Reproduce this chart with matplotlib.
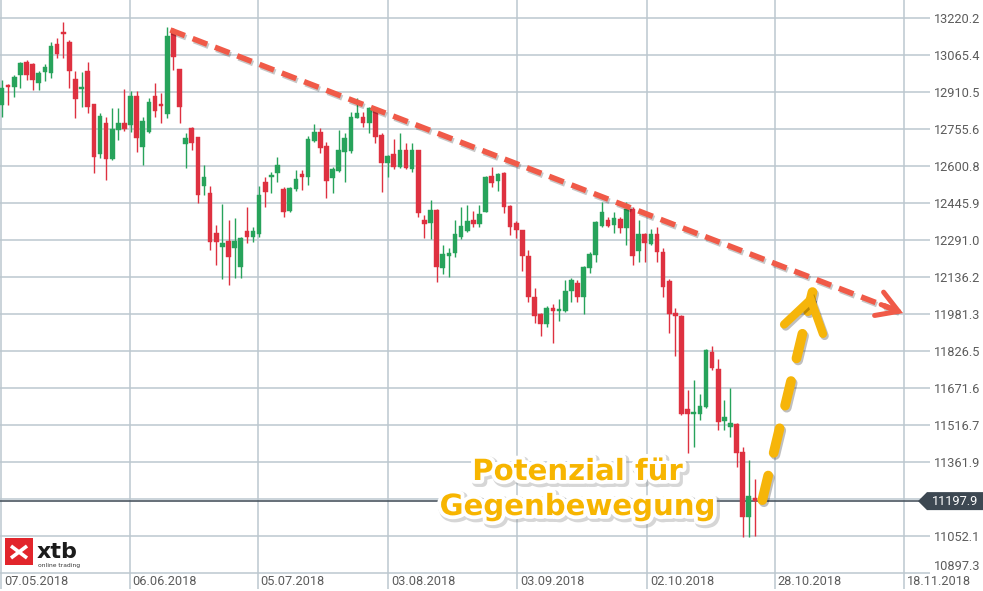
import matplotlib
matplotlib.use('Agg')
import matplotlib.pyplot as plt
import matplotlib.patheffects as pe
from matplotlib.patches import Rectangle, Polygon
from matplotlib.lines import Line2D
from matplotlib.transforms import ScaledTranslation, blended_transform_factory
import numpy as np

# ---------------- data ----------------
opens = [12856, 12940, 12931, 12982, 13036, 13028, 12948, 12994, 12990, 13111,
         13162, 13120, 12965, 12923, 12998, 12860, 12651, 12781, 12630, 12751,
         12781, 12772, 12894, 12680, 12743, 12894, 12860, 12818, 13162, 13007,
         12693, 12760, 12722, 12517, 12488, 12320, 12262, 12287, 12257, 12178,
         12329, 12303, 12316, 12534, 12555, 12571, 12504, 12412, 12504, 12567,
         12555, 12705, 12743, 12684, 12550, 12580, 12659, 12663, 12802, 12806,
         12781, 12839, 12730, 12613, 12651, 12596, 12668, 12588, 12668, 12375,
         12362, 12416, 12174, 12224, 12236, 12303, 12329, 12375, 12358, 12408,
         12559, 12538, 12571, 12433, 12362, 12333, 12224, 12052, 11981, 11939,
         12006, 11994, 11994, 12077, 12111, 12052, 12174, 12228, 12350, 12375,
         12354, 12379, 12341, 12421, 12245, 12316, 12274, 12316, 12241, 12119,
         11985, 11973, 11583, 11563, 11563, 11592, 11822, 11751, 11533, 11508,
         11521, 11403, 11131, 11211]
highs = [12961, 12944, 12982, 13036, 13044, 13032, 12998, 13028, 13120, 13136,
         13203, 13128, 12998, 12994, 13036, 12860, 12823, 12806, 12843, 12843,
         12923, 12915, 12915, 12806, 12885, 12948, 12906, 13182, 13178, 13007,
         12739, 12764, 12722, 12605, 12517, 12354, 12442, 12375, 12383, 12303,
         12429, 12345, 12517, 12555, 12576, 12638, 12513, 12513, 12584, 12584,
         12726, 12776, 12760, 12701, 12596, 12751, 12739, 12827, 12885, 12827,
         12848, 12843, 12739, 12647, 12714, 12739, 12697, 12697, 12668, 12396,
         12458, 12421, 12270, 12257, 12375, 12429, 12437, 12412, 12437, 12559,
         12596, 12571, 12576, 12437, 12370, 12333, 12249, 12090, 11985, 12015,
         12023, 12044, 12123, 12132, 12123, 12182, 12241, 12370, 12450, 12387,
         12408, 12387, 12450, 12429, 12375, 12320, 12337, 12345, 12257, 12128,
         12006, 11977, 11663, 11705, 11646, 11835, 11847, 11793, 11621, 11671,
         11525, 11424, 11370, 11290]
lows = [12806, 12856, 12889, 12927, 12961, 12919, 12919, 12956, 12969, 13053,
        13053, 12927, 12802, 12848, 12823, 12571, 12634, 12542, 12626, 12710,
        12747, 12743, 12659, 12605, 12739, 12806, 12781, 12802, 13003, 12781,
        12592, 12668, 12446, 12479, 12249, 12186, 12128, 12103, 12132, 12132,
        12278, 12283, 12303, 12429, 12488, 12534, 12387, 12408, 12496, 12500,
        12521, 12701, 12655, 12467, 12488, 12576, 12534, 12655, 12802, 12764,
        12739, 12697, 12492, 12555, 12588, 12592, 12588, 12576, 12387, 12299,
        12295, 12115, 12149, 12136, 12220, 12295, 12324, 12345, 12345, 12408,
        12513, 12496, 12404, 12312, 12299, 12161, 12031, 11943, 11889, 11927,
        11860, 11952, 11990, 12031, 12031, 11981, 12153, 12199, 12345, 12345,
        12320, 12320, 12270, 12186, 12199, 12199, 12270, 12199, 12052, 11902,
        11805, 11558, 11399, 11424, 11537, 11588, 11747, 11496, 11496, 11466,
        11341, 11048, 11048, 11052]
closes = [12927, 12931, 12973, 13032, 12982, 12961, 12990, 13015, 13103, 13069,
          13153, 12998, 12881, 12931, 12848, 12638, 12810, 12630, 12756, 12781,
          12756, 12894, 12718, 12789, 12869, 12831, 12852, 13145, 13057, 12848,
          12718, 12697, 12479, 12555, 12283, 12283, 12278, 12220, 12287, 12299,
          12303, 12329, 12479, 12492, 12563, 12605, 12408, 12509, 12546, 12555,
          12714, 12743, 12676, 12538, 12588, 12668, 12718, 12806, 12823, 12781,
          12843, 12722, 12613, 12643, 12596, 12668, 12592, 12668, 12404, 12358,
          12416, 12178, 12232, 12236, 12316, 12350, 12370, 12358, 12400, 12555,
          12530, 12567, 12429, 12345, 12333, 12224, 12052, 11973, 11939, 12006,
          11994, 12002, 12077, 12123, 12052, 12178, 12232, 12366, 12408, 12350,
          12383, 12341, 12421, 12224, 12316, 12278, 12316, 12241, 12094, 11981,
          11973, 11563, 11563, 11567, 11596, 11830, 11755, 11529, 11550, 11525,
          11399, 11131, 11219, 11197.9]

x_labels = ['07.05.2018', '06.06.2018', '05.07.2018', '03.08.2018',
            '03.09.2018', '02.10.2018', '28.10.2018', '18.11.2018']
x_tick_pos = [-0.16, 20.9, 41.8, 63.1, 84.2, 105.4, 126.3, 147.4]
y_ticks = [13220.2, 13065.4, 12910.5, 12755.6, 12600.8, 12445.9, 12291.0,
           12136.2, 11981.3, 11826.5, 11671.6, 11516.7, 11361.9, 11052.1, 10897.3]
last_price = 11197.9

trend_x = [27.5, 147.2]
trend_y = [13170, 11985]
rebound_x = [124.2, 132.4]
rebound_y = [11202, 12073]

annot_line1 = 'Potenzial für'
annot_line2 = 'Gegenbewegung'

# ---------------- figure ----------------
W, H = 983, 591
fig = plt.figure(figsize=(W / 100, H / 100), dpi=100)
fig.patch.set_facecolor('white')
ax = fig.add_axes([0, 17 / H, 930 / W, 574 / H])
ax.set_facecolor('white')

GREEN = '#27a35b'
RED = '#de3140'
GRID = '#bcc7cf'
LABEL = '#5c5c5c'

n = len(opens)
idx = np.arange(n)
o = np.array(opens, float)
c = np.array(closes, float)
hi = np.array(highs, float)
lo = np.array(lows, float)
up = c >= o
cols = np.where(up, GREEN, RED)

ax.vlines(idx, lo, hi, colors=cols, linewidth=1.0, zorder=3)
bottoms = np.minimum(o, c)
heights = np.maximum(np.abs(c - o), 6)
ax.bar(idx, heights, bottom=bottoms, width=0.76, color=cols, edgecolor=cols,
       linewidth=0.3, zorder=4)

ax.set_xlim(-0.33, 151.6)
ax.set_ylim(10892.8, 13295.5)

# grid
ax.set_axisbelow(True)
for yv in y_ticks + [11207.0]:
    ax.axhline(yv, color=GRID, linewidth=1.1, zorder=1)
for xv in x_tick_pos:
    ax.axvline(xv, color=GRID, linewidth=1.1, zorder=1)

for s in ax.spines.values():
    s.set_visible(False)

# y ticks on right
ax.yaxis.tick_right()
ax.set_yticks(y_ticks)
ax.set_yticklabels([f'{v:.1f}' for v in y_ticks])
ax.tick_params(axis='y', length=0, pad=2.5, labelsize=9.2, labelcolor=LABEL)
for lab in ax.get_yticklabels():
    lab.set_fontfamily(['Roboto', 'DejaVu Sans'])
ax.get_yticklabels()[-1].set_verticalalignment('bottom')

# x ticks
ax.set_xticks(x_tick_pos)
ax.set_xticklabels(x_labels)
ax.tick_params(axis='x', length=11, width=1.1, color=GRID, direction='out',
               pad=-10, labelsize=9.2, labelcolor=LABEL)
off = ScaledTranslation(2 / 72, 0, fig.dpi_scale_trans)
for lab in ax.get_xticklabels():
    lab.set_horizontalalignment('left')
    lab.set_fontfamily(['Roboto', 'DejaVu Sans'])
    lab.set_transform(lab.get_transform() + off)

# current price line and marker
ax.axhline(last_price, color='#4b5661', linewidth=1.2, zorder=2)
bt = blended_transform_factory(ax.transAxes, ax.transData)
hh = 9 * (13295.5 - 10892.8) / 574
marker = Polygon([(918 / 930, last_price), (927 / 930, last_price + hh),
                  (1.08, last_price + hh), (1.08, last_price - hh),
                  (927 / 930, last_price - hh)], closed=True,
                 transform=bt, facecolor='#3d4852', edgecolor='none',
                 clip_on=False, zorder=6)
ax.add_patch(marker)
ax.text(932 / 930, last_price, f'{last_price:.1f}', transform=bt, color='white',
        fontsize=9.2, family=['Roboto', 'DejaVu Sans'], va='center', ha='left',
        zorder=7, clip_on=False)

# red dashed trend line with arrow head
shadow = [pe.SimpleLineShadow(offset=(1, -1.5), shadow_color='black', alpha=0.22),
          pe.Normal()]
ax.plot(trend_x, trend_y, color='#f05a48', linewidth=4.0,
        linestyle=(0, (2.8, 1.5)), solid_capstyle='butt', zorder=8,
        path_effects=shadow)
tx0 = trend_x[1] - 0.03 * (trend_x[1] - trend_x[0])
ty0 = trend_y[1] - 0.03 * (trend_y[1] - trend_y[0])
ax.annotate('', xy=(trend_x[1], trend_y[1]), xytext=(tx0, ty0),
            arrowprops=dict(arrowstyle='->,head_length=0.75,head_width=0.45',
                            color='#f05a48', lw=3.6, shrinkA=0, shrinkB=0,
                            mutation_scale=20, joinstyle='miter'),
            zorder=8)

# yellow dashed rebound arrow
shadow2 = [pe.SimpleLineShadow(offset=(1.2, -1.5), shadow_color='black', alpha=0.25),
           pe.Normal()]
ax.plot(rebound_x, rebound_y, color='#f6b50a', linewidth=7.0,
        linestyle=(0, (2.6, 2.4)), dash_capstyle='round', zorder=9,
        path_effects=shadow2)
rx0 = rebound_x[1] - 0.04 * (rebound_x[1] - rebound_x[0])
ry0 = rebound_y[1] - 0.04 * (rebound_y[1] - rebound_y[0])
ax.annotate('', xy=(rebound_x[1], rebound_y[1]), xytext=(rx0, ry0),
            arrowprops=dict(arrowstyle='->,head_length=1.1,head_width=0.72',
                            color='#f6b50a', lw=6.0, shrinkA=0, shrinkB=0,
                            mutation_scale=20, capstyle='round', joinstyle='miter',
                            path_effects=shadow2),
            zorder=9)

# annotation text
text_fx = [pe.Stroke(linewidth=7, foreground='#8a8a8a', alpha=0.35, offset=(1.5, -1.5)),
           pe.Stroke(linewidth=5.5, foreground='white'), pe.Normal()]
ppx = (13295.5 - 10892.8) / 574
ax.text(94.0, 13295.5 - 480 * ppx, annot_line1, ha='center', va='baseline',
        fontsize=21, fontweight='bold', family='DejaVu Sans', color='#f7b500',
        path_effects=text_fx, zorder=10)
ax.text(94.0, 13295.5 - 515 * ppx, annot_line2, ha='center', va='baseline',
        fontsize=21, fontweight='bold', family='DejaVu Sans', color='#f7b500',
        path_effects=text_fx, zorder=10)

# xtb logo
fig.add_artist(Rectangle((5 / W, (H - 565) / H), 28 / W, 27 / H,
                         transform=fig.transFigure, facecolor='#e2252b',
                         edgecolor='none', zorder=20))
for (x1, y1, x2, y2) in [(11, 546, 27, 558), (11, 558, 27, 546)]:
    fig.add_artist(Line2D([x1 / W, x2 / W], [(H - y1) / H, (H - y2) / H],
                          transform=fig.transFigure, color='white', lw=2.6,
                          solid_capstyle='butt', zorder=21))
fig.text(37 / W, (H - 558) / H, 'xtb', fontsize=16, fontweight='bold',
         color='#1b1b1b', family='DejaVu Sans', ha='left', va='baseline', zorder=21)
fig.text(38 / W, (H - 567) / H, 'online trading', fontsize=4.3,
         color='#333333', family='DejaVu Sans', ha='left', va='baseline', zorder=21)

fig.savefig('out.png', dpi=100, facecolor='white')
